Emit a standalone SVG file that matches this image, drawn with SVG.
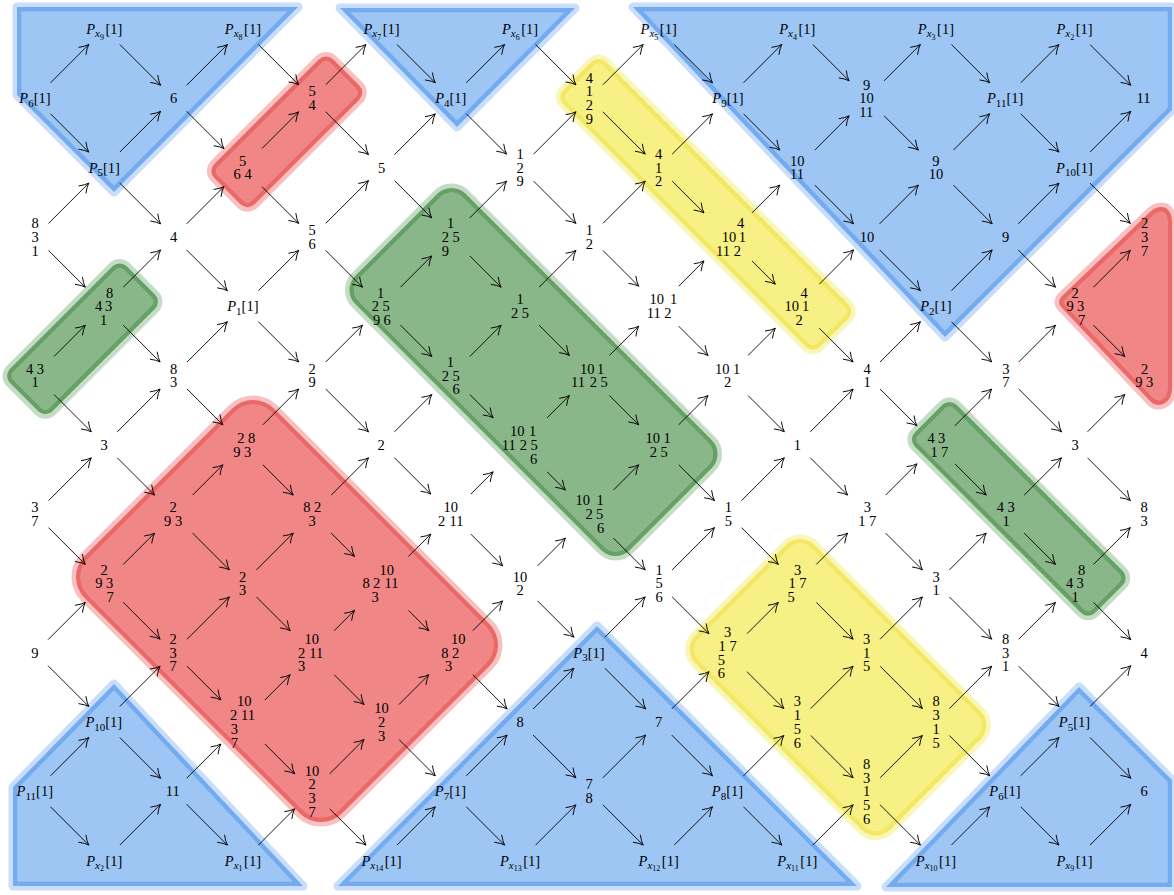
<svg xmlns="http://www.w3.org/2000/svg" width="1174" height="895" viewBox="0 0 1174 895">
<style>
text{font-family:"Liberation Serif","Times New Roman",serif;font-size:14.5px;fill:#000}
.m{text-anchor:middle}
.i{font-style:italic}
.s{font-size:11px}
.ss{font-size:8px}
.c{fill:none;stroke:#000;stroke-width:0.9;marker-end:url(#ah)}
.bf{fill:#9DC6F5;stroke:#C8DEFA;stroke-width:9;stroke-linejoin:round}
.bb{fill:none;stroke:#73AAF0;stroke-width:9;stroke-linejoin:round}
.rf{fill:#F18686;stroke:#F8C0C0;stroke-width:9;stroke-linejoin:round}
.rb{fill:none;stroke:#EA6868;stroke-width:9;stroke-linejoin:round}
.gf{fill:#89B789;stroke:#C3DCC3;stroke-width:9}
.gb{fill:none;stroke:#67A067;stroke-width:9}
.yf{fill:#F7F085;stroke:#FAF6B9;stroke-width:9}
.yb{fill:none;stroke:#F2E864;stroke-width:9}
</style>
<defs>
<marker id="ah" markerUnits="userSpaceOnUse" markerWidth="14" markerHeight="14" viewBox="-11 -7 14 14" refX="0" refY="0" orient="auto" overflow="visible"><path d="M-9,-5 Q-4,-1.2 0,0 Q-4,1.2 -9,5" fill="none" stroke="#000" stroke-width="0.9" stroke-linecap="round"/></marker>
<path id="B1" d="M17,7 L298,7 L114,192 L17,95 Z"/>
<path id="B2" d="M340,8 L575,8 L457,127 Z"/>
<path id="B3" d="M633,7 L1172,7 L1172,110 L945,337 Z"/>
<path id="B4" d="M114,684 L13,787 L13,886 L303,886 Z"/>
<path id="B5" d="M338,886 L597,626 L857,886 Z"/>
<path id="B6" d="M886,887 L1079,687 L1172,780 L1172,887 Z"/>
<rect id="R1" x="-84" y="-28.5" width="168" height="57" rx="10" transform="translate(286.8 131.8) rotate(-45)"/>
<rect id="R2" x="-134" y="-182" width="268" height="364" rx="30" transform="translate(287 611) rotate(-45)"/>
<path id="R3" d="M1062,296 L1150,212 Q1158,205 1166,208 Q1172,212 1172,222 L1172,388 Q1172,400 1163,404 Q1155,407 1149,400 L1062,308 Q1056,302 1062,296 Z"/>
<rect id="G1" x="-82.5" y="-30" width="165" height="60" rx="10" transform="translate(82.5 338.8) rotate(-45)"/>
<rect id="G2" x="-78" y="-194" width="156" height="388" rx="20" transform="translate(533.5 372) rotate(-45)"/>
<rect id="G3" x="-29.5" y="-127.5" width="59" height="255" rx="10" transform="translate(1018.8 508.8) rotate(-45)"/>
<rect id="Y1" x="-30" y="-181.5" width="60" height="363" rx="10" transform="translate(705.8 204.3) rotate(-45)"/>
<rect id="Y2" x="-84" y="-137.5" width="168" height="275" rx="20" transform="translate(838 687.3) rotate(-45)"/>
<clipPath id="cB1"><use href="#B1"/></clipPath>
<clipPath id="cB2"><use href="#B2"/></clipPath>
<clipPath id="cB3"><use href="#B3"/></clipPath>
<clipPath id="cB4"><use href="#B4"/></clipPath>
<clipPath id="cB5"><use href="#B5"/></clipPath>
<clipPath id="cB6"><use href="#B6"/></clipPath>
<clipPath id="cR1"><use href="#R1"/></clipPath>
<clipPath id="cR2"><use href="#R2"/></clipPath>
<clipPath id="cR3"><use href="#R3"/></clipPath>
<clipPath id="cG1"><use href="#G1"/></clipPath>
<clipPath id="cG2"><use href="#G2"/></clipPath>
<clipPath id="cG3"><use href="#G3"/></clipPath>
<clipPath id="cY1"><use href="#Y1"/></clipPath>
<clipPath id="cY2"><use href="#Y2"/></clipPath>
</defs>
<rect width="1174" height="895" fill="#fff"/>
<g id="regions">
<g id="blue1"><use href="#B1" class="bf"/><use href="#B1" class="bb" clip-path="url(#cB1)"/></g>
<g id="blue2"><use href="#B2" class="bf"/><use href="#B2" class="bb" clip-path="url(#cB2)"/></g>
<g id="blue3"><use href="#B3" class="bf"/><use href="#B3" class="bb" clip-path="url(#cB3)"/></g>
<g id="blue4"><use href="#B4" class="bf"/><use href="#B4" class="bb" clip-path="url(#cB4)"/></g>
<g id="blue5"><use href="#B5" class="bf"/><use href="#B5" class="bb" clip-path="url(#cB5)"/></g>
<g id="blue6"><use href="#B6" class="bf"/><use href="#B6" class="bb" clip-path="url(#cB6)"/></g>
<g id="red1"><use href="#R1" class="rf"/><use href="#R1" class="rb" clip-path="url(#cR1)"/></g>
<g id="red2"><use href="#R2" class="rf"/><use href="#R2" class="rb" clip-path="url(#cR2)"/></g>
<g id="red3"><use href="#R3" class="rf"/><use href="#R3" class="rb" clip-path="url(#cR3)"/></g>
<g id="green1"><use href="#G1" class="gf"/><use href="#G1" class="gb" clip-path="url(#cG1)"/></g>
<g id="green2"><use href="#G2" class="gf"/><use href="#G2" class="gb" clip-path="url(#cG2)"/></g>
<g id="green3"><use href="#G3" class="gf"/><use href="#G3" class="gb" clip-path="url(#cG3)"/></g>
<g id="yellow1"><use href="#Y1" class="yf"/><use href="#Y1" class="yb" clip-path="url(#cY1)"/></g>
<g id="yellow2"><use href="#Y2" class="yf"/><use href="#Y2" class="yb" clip-path="url(#cY2)"/></g>
</g>
<g id="connectors">
<path class="c" d="M119.8,44.5l40.8,40.8"/><path class="c" d="M258.4,44.5l40.3,40.3"/><path class="c" d="M397,44.5l38.3,38.3"/><path class="c" d="M535.6,44.5l40.3,40.3"/><path class="c" d="M674.2,44.5l38.3,38.3"/><path class="c" d="M812.8,44.5l36.3,36.3"/><path class="c" d="M951.4,44.5l38.3,38.3"/><path class="c" d="M1090,44.5l40.8,40.8"/>
<path class="c" d="M50.5,82.8l38.3,-38.3"/><path class="c" d="M50.5,113.8l38.3,38.3"/>
<path class="c" d="M186.6,85.3l40.8,-40.8"/><path class="c" d="M186.6,111.3l37.3,37.3"/>
<path class="c" d="M325.7,84.8l40.3,-40.3"/><path class="c" d="M325.7,111.8l42.8,42.8"/>
<path class="c" d="M466.3,82.8l38.3,-38.3"/><path class="c" d="M466.3,113.8l40.3,40.3"/>
<path class="c" d="M602.9,84.8l40.3,-40.3"/><path class="c" d="M602.9,111.8l42.3,42.3"/>
<path class="c" d="M743.5,82.8l38.3,-38.3"/><path class="c" d="M743.5,113.8l36.3,36.3"/>
<path class="c" d="M884.1,80.8l36.3,-36.3"/><path class="c" d="M884.1,115.8l34.3,34.3"/>
<path class="c" d="M1020.7,82.8l38.3,-38.3"/><path class="c" d="M1020.7,113.8l38.3,38.3"/>
<path class="c" d="M119.8,152.1l40.8,-40.8"/><path class="c" d="M119.8,183.1l40.8,40.8"/>
<path class="c" d="M261.9,148.6l36.8,-36.8"/><path class="c" d="M261.9,186.6l36.8,36.8"/>
<path class="c" d="M394.5,154.6l40.8,-40.8"/><path class="c" d="M394.5,180.6l37.3,37.3"/>
<path class="c" d="M533.6,154.1l42.3,-42.3"/><path class="c" d="M533.6,181.1l42.3,42.3"/>
<path class="c" d="M672.2,154.1l40.3,-40.3"/><path class="c" d="M672.2,181.1l31.8,31.8"/>
<path class="c" d="M814.8,150.1l34.3,-34.3"/><path class="c" d="M814.8,185.1l38.8,38.8"/>
<path class="c" d="M953.4,150.1l36.3,-36.3"/><path class="c" d="M953.4,185.1l38.8,38.8"/>
<path class="c" d="M1090,152.1l40.8,-40.8"/><path class="c" d="M1090,183.1l40.3,40.3"/>
<path class="c" d="M48.5,223.4l40.3,-40.3"/><path class="c" d="M48.5,250.4l36.8,36.8"/>
<path class="c" d="M186.6,223.9l37.3,-37.3"/><path class="c" d="M186.6,249.9l40.8,40.8"/>
<path class="c" d="M325.7,223.4l42.8,-42.8"/><path class="c" d="M325.7,250.4l36.8,36.8"/>
<path class="c" d="M469.8,217.9l36.8,-36.8"/><path class="c" d="M469.8,255.9l31.3,31.3"/>
<path class="c" d="M602.9,223.4l42.3,-42.3"/><path class="c" d="M602.9,250.4l35.8,35.8"/>
<path class="c" d="M752,212.9l27.8,-27.8"/><path class="c" d="M752,260.9l23.3,23.3"/>
<path class="c" d="M879.6,223.9l38.8,-38.8"/><path class="c" d="M879.6,249.9l40.8,40.8"/>
<path class="c" d="M1018.2,223.9l40.8,-40.8"/><path class="c" d="M1018.2,249.9l37.3,37.3"/>
<path class="c" d="M123.3,287.2l37.3,-37.3"/><path class="c" d="M123.3,325.2l36.8,36.8"/>
<path class="c" d="M258.4,290.7l40.3,-40.3"/><path class="c" d="M258.4,321.7l40.3,40.3"/>
<path class="c" d="M400.5,287.2l31.3,-31.3"/><path class="c" d="M400.5,325.2l31.3,31.3"/>
<path class="c" d="M539.1,287.2l36.8,-36.8"/><path class="c" d="M539.1,325.2l30.3,30.3"/>
<path class="c" d="M678.7,286.2l25.3,-25.3"/><path class="c" d="M678.7,326.2l29.3,29.3"/>
<path class="c" d="M819.3,284.2l34.3,-34.3"/><path class="c" d="M819.3,328.2l33.8,33.8"/>
<path class="c" d="M951.4,290.7l40.8,-40.8"/><path class="c" d="M951.4,321.7l40.3,40.3"/>
<path class="c" d="M1093.5,287.2l36.8,-36.8"/><path class="c" d="M1093.5,325.2l31.3,31.3"/>
<path class="c" d="M54,356.5l31.3,-31.3"/><path class="c" d="M54,394.5l37.3,37.3"/>
<path class="c" d="M187.1,362l40.3,-40.3"/><path class="c" d="M187.1,389l35.8,35.8"/>
<path class="c" d="M325.7,362l36.8,-36.8"/><path class="c" d="M325.7,389l42.8,42.8"/>
<path class="c" d="M469.8,356.5l31.3,-31.3"/><path class="c" d="M469.8,394.5l23.3,23.3"/>
<path class="c" d="M609.4,355.5l29.3,-29.3"/><path class="c" d="M609.4,395.5l29.3,29.3"/>
<path class="c" d="M748,355.5l27.3,-27.3"/><path class="c" d="M748,395.5l36.3,36.3"/>
<path class="c" d="M880.1,362l40.3,-40.3"/><path class="c" d="M880.1,389l36.8,36.8"/>
<path class="c" d="M1018.7,362l36.8,-36.8"/><path class="c" d="M1018.7,389l42.8,42.8"/>
<path class="c" d="M117.3,431.8l42.8,-42.8"/><path class="c" d="M117.3,457.8l37.3,37.3"/>
<path class="c" d="M262.9,424.8l35.8,-35.8"/><path class="c" d="M262.9,464.8l30.3,30.3"/>
<path class="c" d="M394.5,431.8l37.3,-37.3"/><path class="c" d="M394.5,457.8l36.3,36.3"/>
<path class="c" d="M547.1,417.8l22.3,-22.3"/><path class="c" d="M547.1,471.8l18.3,18.3"/>
<path class="c" d="M678.7,424.8l29.3,-29.3"/><path class="c" d="M678.7,464.8l35.8,35.8"/>
<path class="c" d="M810.3,431.8l42.8,-42.8"/><path class="c" d="M810.3,457.8l37.3,37.3"/>
<path class="c" d="M954.9,425.8l36.8,-36.8"/><path class="c" d="M954.9,463.8l31.3,31.3"/>
<path class="c" d="M1087.5,431.8l37.3,-37.3"/><path class="c" d="M1087.5,457.8l42.8,42.8"/>
<path class="c" d="M48.5,500.6l42.8,-42.8"/><path class="c" d="M48.5,527.6l36.8,36.8"/>
<path class="c" d="M192.6,495.1l30.3,-30.3"/><path class="c" d="M192.6,533.1l36.8,36.8"/>
<path class="c" d="M331.2,495.1l37.3,-37.3"/><path class="c" d="M331.2,533.1l23.3,23.3"/>
<path class="c" d="M470.8,494.1l22.3,-22.3"/><path class="c" d="M470.8,534.1l31.8,31.8"/>
<path class="c" d="M613.4,490.1l25.3,-25.3"/><path class="c" d="M613.4,538.1l31.8,31.8"/>
<path class="c" d="M741.5,500.6l42.8,-42.8"/><path class="c" d="M741.5,527.6l36.8,36.8"/>
<path class="c" d="M885.6,495.1l31.3,-31.3"/><path class="c" d="M885.6,533.1l36.8,36.8"/>
<path class="c" d="M1024.2,495.1l37.3,-37.3"/><path class="c" d="M1024.2,533.1l31.3,31.3"/>
<path class="c" d="M123.3,564.4l31.3,-31.3"/><path class="c" d="M123.3,602.4l36.8,36.8"/>
<path class="c" d="M256.4,569.9l36.8,-36.8"/><path class="c" d="M256.4,596.9l33.8,33.8"/>
<path class="c" d="M408.5,556.4l22.3,-22.3"/><path class="c" d="M408.5,610.4l20.3,20.3"/>
<path class="c" d="M537.6,565.9l27.8,-27.8"/><path class="c" d="M537.6,600.9l36.3,36.3"/>
<path class="c" d="M672.2,569.9l42.3,-42.3"/><path class="c" d="M672.2,596.9l36.8,36.8"/>
<path class="c" d="M816.3,564.4l31.3,-31.3"/><path class="c" d="M816.3,602.4l36.8,36.8"/>
<path class="c" d="M949.4,569.9l36.8,-36.8"/><path class="c" d="M949.4,596.9l42.3,42.3"/>
<path class="c" d="M1093.5,564.4l36.8,-36.8"/><path class="c" d="M1093.5,602.4l37.3,37.3"/>
<path class="c" d="M48,639.7l37.3,-37.3"/><path class="c" d="M48,665.7l40.8,40.8"/>
<path class="c" d="M187.1,639.2l42.3,-42.3"/><path class="c" d="M187.1,666.2l33.8,33.8"/>
<path class="c" d="M334.2,630.7l20.3,-20.3"/><path class="c" d="M334.2,674.7l29.8,29.8"/>
<path class="c" d="M472.8,630.7l29.8,-29.8"/><path class="c" d="M472.8,674.7l34.3,34.3"/>
<path class="c" d="M604.9,637.2l40.3,-40.3"/><path class="c" d="M604.9,668.2l40.8,40.8"/>
<path class="c" d="M747,633.7l31.3,-31.3"/><path class="c" d="M747,671.7l36.8,36.8"/>
<path class="c" d="M880.1,639.2l42.3,-42.3"/><path class="c" d="M880.1,666.2l42.3,42.3"/>
<path class="c" d="M1018.7,639.2l36.8,-36.8"/><path class="c" d="M1018.7,666.2l40.3,40.3"/>
<path class="c" d="M119.8,706.5l40.3,-40.3"/><path class="c" d="M119.8,737.5l40.8,40.8"/>
<path class="c" d="M264.9,700l25.3,-25.3"/><path class="c" d="M264.9,744l29.8,29.8"/>
<path class="c" d="M399,704.5l29.8,-29.8"/><path class="c" d="M399,739.5l36.3,36.3"/>
<path class="c" d="M533.1,709l40.8,-40.8"/><path class="c" d="M533.1,735l42.8,42.8"/>
<path class="c" d="M671.7,709l37.3,-37.3"/><path class="c" d="M671.7,735l40.8,40.8"/>
<path class="c" d="M810.8,708.5l42.3,-42.3"/><path class="c" d="M810.8,735.5l42.3,42.3"/>
<path class="c" d="M949.4,708.5l42.3,-42.3"/><path class="c" d="M949.4,735.5l40.3,40.3"/>
<path class="c" d="M1090,706.5l40.8,-40.8"/><path class="c" d="M1090,737.5l40.8,40.8"/>
<path class="c" d="M50.5,775.8l38.3,-38.3"/><path class="c" d="M50.5,806.8l38.3,38.3"/>
<path class="c" d="M186.6,778.3l34.3,-34.3"/><path class="c" d="M186.6,804.3l40.8,40.8"/>
<path class="c" d="M329.7,773.8l34.3,-34.3"/><path class="c" d="M329.7,808.8l36.3,36.3"/>
<path class="c" d="M466.3,775.8l40.8,-40.8"/><path class="c" d="M466.3,806.8l38.3,38.3"/>
<path class="c" d="M602.9,777.8l42.8,-42.8"/><path class="c" d="M602.9,804.8l40.3,40.3"/>
<path class="c" d="M743.5,775.8l40.3,-40.3"/><path class="c" d="M743.5,806.8l38.3,38.3"/>
<path class="c" d="M880.1,777.8l42.3,-42.3"/><path class="c" d="M880.1,804.8l40.3,40.3"/>
<path class="c" d="M1020.7,775.8l38.3,-38.3"/><path class="c" d="M1020.7,806.8l38.3,38.3"/>
<path class="c" d="M119.8,845.1l40.8,-40.8"/><path class="c" d="M258.4,845.1l36.3,-36.3"/><path class="c" d="M397,845.1l38.3,-38.3"/><path class="c" d="M535.6,845.1l40.3,-40.3"/><path class="c" d="M674.2,845.1l38.3,-38.3"/><path class="c" d="M812.8,845.1l40.3,-40.3"/><path class="c" d="M951.4,845.1l38.3,-38.3"/><path class="c" d="M1090,845.1l40.8,-40.8"/>
</g>
<g id="nodes">
<g id="n1_0"><text class="m" x="104.3" y="34"><tspan class="i">P</tspan><tspan class="i s" dy="3">x</tspan><tspan class="ss" dy="2.5">9</tspan><tspan dx="1.5" dy="-5.5">[1]</tspan></text></g>
<g id="n3_0"><text class="m" x="242.9" y="34"><tspan class="i">P</tspan><tspan class="i s" dy="3">x</tspan><tspan class="ss" dy="2.5">8</tspan><tspan dx="1.5" dy="-5.5">[1]</tspan></text></g>
<g id="n5_0"><text class="m" x="381.5" y="34"><tspan class="i">P</tspan><tspan class="i s" dy="3">x</tspan><tspan class="ss" dy="2.5">7</tspan><tspan dx="1.5" dy="-5.5">[1]</tspan></text></g>
<g id="n7_0"><text class="m" x="520.1" y="34"><tspan class="i">P</tspan><tspan class="i s" dy="3">x</tspan><tspan class="ss" dy="2.5">6</tspan><tspan dx="1.5" dy="-5.5">[1]</tspan></text></g>
<g id="n9_0"><text class="m" x="658.7" y="34"><tspan class="i">P</tspan><tspan class="i s" dy="3">x</tspan><tspan class="ss" dy="2.5">5</tspan><tspan dx="1.5" dy="-5.5">[1]</tspan></text></g>
<g id="n11_0"><text class="m" x="797.3" y="34"><tspan class="i">P</tspan><tspan class="i s" dy="3">x</tspan><tspan class="ss" dy="2.5">4</tspan><tspan dx="1.5" dy="-5.5">[1]</tspan></text></g>
<g id="n13_0"><text class="m" x="935.9" y="34"><tspan class="i">P</tspan><tspan class="i s" dy="3">x</tspan><tspan class="ss" dy="2.5">3</tspan><tspan dx="1.5" dy="-5.5">[1]</tspan></text></g>
<g id="n15_0"><text class="m" x="1074.5" y="34"><tspan class="i">P</tspan><tspan class="i s" dy="3">x</tspan><tspan class="ss" dy="2.5">2</tspan><tspan dx="1.5" dy="-5.5">[1]</tspan></text></g>

<g id="n0_1"><text class="m" x="35" y="103.3"><tspan class="i">P</tspan><tspan class="s" dy="3.5">6</tspan><tspan dy="-3.5">[1]</tspan></text></g>
<g id="n2_1"><text x="170" y="103.3">6</text></g>
<g id="n4_1"><text><tspan x="308.4" y="96.45">5</tspan> <tspan x="308.4" y="110.15">4</tspan></text></g>
<g id="n6_1"><text class="m" x="450.8" y="103.3"><tspan class="i">P</tspan><tspan class="s" dy="3.5">4</tspan><tspan dy="-3.5">[1]</tspan></text></g>
<g id="n8_1"><text><tspan x="585.8" y="82.75">4</tspan> <tspan x="585.8" y="96.45">1</tspan> <tspan x="585.8" y="110.15">2</tspan> <tspan x="585.8" y="123.85">9</tspan></text></g>
<g id="n10_1"><text class="m" x="728" y="103.3"><tspan class="i">P</tspan><tspan class="s" dy="3.5">9</tspan><tspan dy="-3.5">[1]</tspan></text></g>
<g id="n12_1"><text><tspan x="863" y="89.6">9</tspan> <tspan x="859.35" y="103.3">10</tspan> <tspan x="859.35" y="117">11</tspan></text></g>
<g id="n14_1"><text class="m" x="1005.2" y="103.3"><tspan class="i">P</tspan><tspan class="s" dy="3.5">11</tspan><tspan dy="-3.5">[1]</tspan></text></g>
<g id="n16_1"><text x="1136.55" y="103.3">11</text></g>

<g id="n1_2"><text class="m" x="104.3" y="172.6"><tspan class="i">P</tspan><tspan class="s" dy="3.5">5</tspan><tspan dy="-3.5">[1]</tspan></text></g>
<g id="n3_2"><text><tspan x="239.1" y="165.75">5</tspan> <tspan x="233.6" y="179.45">6</tspan> <tspan x="244.6" y="179.45">4</tspan></text></g>
<g id="n5_2"><text x="377.9" y="172.6">5</text></g>
<g id="n7_2"><text><tspan x="516.5" y="158.9">1</tspan> <tspan x="516.5" y="172.6">2</tspan> <tspan x="516.5" y="186.3">9</tspan></text></g>
<g id="n9_2"><text><tspan x="655.1" y="158.9">4</tspan> <tspan x="655.1" y="172.6">1</tspan> <tspan x="655.1" y="186.3">2</tspan></text></g>
<g id="n11_2"><text><tspan x="790.05" y="165.75">10</tspan> <tspan x="790.05" y="179.45">11</tspan></text></g>
<g id="n13_2"><text><tspan x="932.3" y="165.75">9</tspan> <tspan x="928.65" y="179.45">10</tspan></text></g>
<g id="n15_2"><text class="m" x="1074.5" y="172.6"><tspan class="i">P</tspan><tspan class="s" dy="3.5">10</tspan><tspan dy="-3.5">[1]</tspan></text></g>

<g id="n0_3"><text><tspan x="31.4" y="228.2">8</tspan> <tspan x="31.4" y="241.9">3</tspan> <tspan x="31.4" y="255.6">1</tspan></text></g>
<g id="n2_3"><text x="170" y="241.9">4</text></g>
<g id="n4_3"><text><tspan x="308.4" y="235.05">5</tspan> <tspan x="308.4" y="248.75">6</tspan></text></g>
<g id="n6_3"><text><tspan x="446.9" y="228.2">1</tspan> <tspan x="441.7" y="241.9">2</tspan> <tspan x="452.6" y="241.9">5</tspan> <tspan x="441.7" y="255.6">9</tspan></text></g>
<g id="n8_3"><text><tspan x="585.8" y="235.05">1</tspan> <tspan x="585.8" y="248.75">2</tspan></text></g>
<g id="n10_3"><text><tspan x="736.9" y="228.2">4</tspan> <tspan x="721.75" y="241.9">10</tspan> <tspan x="738.7" y="241.9">1</tspan> <tspan x="716.05" y="255.6">11</tspan> <tspan x="733.7" y="255.6">2</tspan></text></g>
<g id="n12_3"><text x="859.65" y="241.9">10</text></g>
<g id="n14_3"><text x="1001.9" y="241.9">9</text></g>
<g id="n16_3"><text><tspan x="1140.9" y="228.2">2</tspan> <tspan x="1140.9" y="241.9">3</tspan> <tspan x="1140.9" y="255.6">7</tspan></text></g>

<g id="n1_4"><text><tspan x="105.9" y="297.5">8</tspan> <tspan x="94.9" y="311.2">4</tspan> <tspan x="104.9" y="311.2">3</tspan> <tspan x="99.9" y="324.9">1</tspan></text></g>
<g id="n3_4"><text class="m" x="242.9" y="311.2"><tspan class="i">P</tspan><tspan class="s" dy="3.5">1</tspan><tspan dy="-3.5">[1]</tspan></text></g>
<g id="n5_4"><text><tspan x="376.9" y="297.5">1</tspan> <tspan x="371.7" y="311.2">2</tspan> <tspan x="382.4" y="311.2">5</tspan> <tspan x="372.9" y="324.9">9</tspan> <tspan x="383.4" y="324.9">6</tspan></text></g>
<g id="n7_4"><text><tspan x="516.4" y="304.35">1</tspan> <tspan x="511" y="318.05">2</tspan> <tspan x="521.8" y="318.05">5</tspan></text></g>
<g id="n9_4"><text><tspan x="649.45" y="304.35">10</tspan> <tspan x="669.9" y="304.35">1</tspan> <tspan x="646.75" y="318.05">11</tspan> <tspan x="664.2" y="318.05">2</tspan></text></g>
<g id="n11_4"><text><tspan x="800.4" y="297.5">4</tspan> <tspan x="784.45" y="311.2">10</tspan> <tspan x="802.1" y="311.2">1</tspan> <tspan x="795.4" y="324.9">2</tspan></text></g>
<g id="n13_4"><text class="m" x="935.9" y="311.2"><tspan class="i">P</tspan><tspan class="s" dy="3.5">2</tspan><tspan dy="-3.5">[1]</tspan></text></g>
<g id="n15_4"><text><tspan x="1071.4" y="297.5">2</tspan> <tspan x="1066.4" y="311.2">9</tspan> <tspan x="1076.9" y="311.2">3</tspan> <tspan x="1077.9" y="324.9">7</tspan></text></g>

<g id="n0_5"><text><tspan x="25.9" y="373.65">4</tspan> <tspan x="36.8" y="373.65">3</tspan> <tspan x="31.4" y="387.35">1</tspan></text></g>
<g id="n2_5"><text><tspan x="169.9" y="373.65">8</tspan> <tspan x="169.9" y="387.35">3</tspan></text></g>
<g id="n4_5"><text><tspan x="308.4" y="373.65">2</tspan> <tspan x="308.4" y="387.35">9</tspan></text></g>
<g id="n6_5"><text><tspan x="446.7" y="366.8">1</tspan> <tspan x="441.7" y="380.5">2</tspan> <tspan x="452.6" y="380.5">5</tspan> <tspan x="452.6" y="394.2">6</tspan></text></g>
<g id="n8_5"><text><tspan x="580.05" y="373.65">10</tspan> <tspan x="597.1" y="373.65">1</tspan> <tspan x="571.05" y="387.35">11</tspan> <tspan x="589.7" y="387.35">2</tspan> <tspan x="600.4" y="387.35">5</tspan></text></g>
<g id="n10_5"><text><tspan x="715.05" y="373.65">10</tspan> <tspan x="733.1" y="373.65">1</tspan> <tspan x="724.1" y="387.35">2</tspan></text></g>
<g id="n12_5"><text><tspan x="863.4" y="373.65">4</tspan> <tspan x="863.4" y="387.35">1</tspan></text></g>
<g id="n14_5"><text><tspan x="1002.2" y="373.65">3</tspan> <tspan x="1002.2" y="387.35">7</tspan></text></g>
<g id="n16_5"><text><tspan x="1140.9" y="373.65">2</tspan> <tspan x="1135.2" y="387.35">9</tspan> <tspan x="1145.9" y="387.35">3</tspan></text></g>

<g id="n1_6"><text x="100.4" y="449.8">3</text></g>
<g id="n3_6"><text><tspan x="237.2" y="442.95">2</tspan> <tspan x="247.9" y="442.95">8</tspan> <tspan x="233.2" y="456.65">9</tspan> <tspan x="243.9" y="456.65">3</tspan></text></g>
<g id="n5_6"><text x="377.4" y="449.8">2</text></g>
<g id="n7_6"><text><tspan x="510.05" y="436.1">10</tspan> <tspan x="529.1" y="436.1">1</tspan> <tspan x="501.75" y="449.8">11</tspan> <tspan x="519.7" y="449.8">2</tspan> <tspan x="530.4" y="449.8">5</tspan> <tspan x="529.9" y="463.5">6</tspan></text></g>
<g id="n9_6"><text><tspan x="645.45" y="442.95">10</tspan> <tspan x="663.4" y="442.95">1</tspan> <tspan x="649.7" y="456.65">2</tspan> <tspan x="660.4" y="456.65">5</tspan></text></g>
<g id="n11_6"><text x="793.7" y="449.8">1</text></g>
<g id="n13_6"><text><tspan x="927.4" y="442.95">4</tspan> <tspan x="938.1" y="442.95">3</tspan> <tspan x="930.4" y="456.65">1</tspan> <tspan x="940.9" y="456.65">7</tspan></text></g>
<g id="n15_6"><text x="1071.4" y="449.8">3</text></g>

<g id="n0_7"><text><tspan x="31.2" y="512.25">3</tspan> <tspan x="31.2" y="525.95">7</tspan></text></g>
<g id="n2_7"><text><tspan x="169.4" y="512.25">2</tspan> <tspan x="164.1" y="525.95">9</tspan> <tspan x="174.9" y="525.95">3</tspan></text></g>
<g id="n4_7"><text><tspan x="303.2" y="512.25">8</tspan> <tspan x="313.9" y="512.25">2</tspan> <tspan x="308.4" y="525.95">3</tspan></text></g>
<g id="n6_7"><text><tspan x="443.45" y="512.25">10</tspan> <tspan x="438.1" y="525.95">2</tspan> <tspan x="449.45" y="525.95">11</tspan></text></g>
<g id="n8_7"><text><tspan x="575.45" y="505.4">10</tspan> <tspan x="596.4" y="505.4">1</tspan> <tspan x="585.4" y="519.1">2</tspan> <tspan x="595.9" y="519.1">5</tspan> <tspan x="596.9" y="532.8">6</tspan></text></g>
<g id="n10_7"><text><tspan x="724.7" y="512.25">1</tspan> <tspan x="724.7" y="525.95">5</tspan></text></g>
<g id="n12_7"><text><tspan x="863.7" y="512.25">3</tspan> <tspan x="858.2" y="525.95">1</tspan> <tspan x="868.9" y="525.95">7</tspan></text></g>
<g id="n14_7"><text><tspan x="996.7" y="512.25">4</tspan> <tspan x="1007.4" y="512.25">3</tspan> <tspan x="1002.4" y="525.95">1</tspan></text></g>
<g id="n16_7"><text><tspan x="1140.4" y="512.25">8</tspan> <tspan x="1140.4" y="525.95">3</tspan></text></g>

<g id="n1_8"><text><tspan x="100.4" y="574.7">2</tspan> <tspan x="95.2" y="588.4">9</tspan> <tspan x="105.9" y="588.4">3</tspan> <tspan x="106.4" y="602.1">7</tspan></text></g>
<g id="n3_8"><text><tspan x="239.1" y="581.55">2</tspan> <tspan x="239.1" y="595.25">3</tspan></text></g>
<g id="n5_8"><text><tspan x="379.45" y="574.7">10</tspan> <tspan x="362.4" y="588.4">8</tspan> <tspan x="373.1" y="588.4">2</tspan> <tspan x="384.45" y="588.4">11</tspan> <tspan x="371.4" y="602.1">3</tspan></text></g>
<g id="n7_8"><text><tspan x="512.75" y="581.55">10</tspan> <tspan x="516.4" y="595.25">2</tspan></text></g>
<g id="n9_8"><text><tspan x="655.4" y="574.7">1</tspan> <tspan x="655.4" y="588.4">5</tspan> <tspan x="655.4" y="602.1">6</tspan></text></g>
<g id="n11_8"><text><tspan x="793.9" y="574.7">3</tspan> <tspan x="788.4" y="588.4">1</tspan> <tspan x="799.2" y="588.4">7</tspan> <tspan x="787.4" y="602.1">5</tspan></text></g>
<g id="n13_8"><text><tspan x="932.4" y="581.55">3</tspan> <tspan x="932.4" y="595.25">1</tspan></text></g>
<g id="n15_8"><text><tspan x="1078.1" y="574.7">8</tspan> <tspan x="1065.9" y="588.4">4</tspan> <tspan x="1076.4" y="588.4">3</tspan> <tspan x="1071.4" y="602.1">1</tspan></text></g>

<g id="n0_9"><text x="31.2" y="657.7">9</text></g>
<g id="n2_9"><text><tspan x="169.4" y="644">2</tspan> <tspan x="169.4" y="657.7">3</tspan> <tspan x="169.4" y="671.4">7</tspan></text></g>
<g id="n4_9"><text><tspan x="304.45" y="644">10</tspan> <tspan x="298.1" y="657.7">2</tspan> <tspan x="309.25" y="657.7">11</tspan> <tspan x="298.1" y="671.4">3</tspan></text></g>
<g id="n6_9"><text><tspan x="451.05" y="644">10</tspan> <tspan x="441.2" y="657.7">8</tspan> <tspan x="452.1" y="657.7">2</tspan> <tspan x="444.9" y="671.4">3</tspan></text></g>
<g id="n8_9"><text class="m" x="589" y="657.7"><tspan class="i">P</tspan><tspan class="s" dy="3.5">3</tspan><tspan dy="-3.5">[1]</tspan></text></g>
<g id="n10_9"><text><tspan x="723.9" y="637.15">3</tspan> <tspan x="718.4" y="650.85">1</tspan> <tspan x="729.4" y="650.85">7</tspan> <tspan x="717.7" y="664.55">5</tspan> <tspan x="717.7" y="678.25">6</tspan></text></g>
<g id="n12_9"><text><tspan x="863.1" y="644">3</tspan> <tspan x="863.1" y="657.7">1</tspan> <tspan x="863.1" y="671.4">5</tspan></text></g>
<g id="n14_9"><text><tspan x="1002.1" y="644">8</tspan> <tspan x="1002.1" y="657.7">3</tspan> <tspan x="1002.1" y="671.4">1</tspan></text></g>
<g id="n16_9"><text x="1140.4" y="657.7">4</text></g>

<g id="n1_10"><text class="m" x="103.8" y="727"><tspan class="i">P</tspan><tspan class="s" dy="3.5">10</tspan><tspan dy="-3.5">[1]</tspan></text></g>
<g id="n3_10"><text><tspan x="237.05" y="706.45">10</tspan> <tspan x="229.9" y="720.15">2</tspan> <tspan x="241.05" y="720.15">11</tspan> <tspan x="230.7" y="733.85">3</tspan> <tspan x="230.7" y="747.55">7</tspan></text></g>
<g id="n5_10"><text><tspan x="374.25" y="713.3">10</tspan> <tspan x="377.9" y="727">2</tspan> <tspan x="377.9" y="740.7">3</tspan></text></g>
<g id="n7_10"><text x="516.4" y="727">8</text></g>
<g id="n9_10"><text x="655.1" y="727">7</text></g>
<g id="n11_10"><text><tspan x="793.7" y="706.45">3</tspan> <tspan x="793.7" y="720.15">1</tspan> <tspan x="793.7" y="733.85">5</tspan> <tspan x="793.7" y="747.55">6</tspan></text></g>
<g id="n13_10"><text><tspan x="932.4" y="706.45">8</tspan> <tspan x="932.4" y="720.15">3</tspan> <tspan x="932.4" y="733.85">1</tspan> <tspan x="932.4" y="747.55">5</tspan></text></g>
<g id="n15_10"><text class="m" x="1074.5" y="727"><tspan class="i">P</tspan><tspan class="s" dy="3.5">5</tspan><tspan dy="-3.5">[1]</tspan></text></g>

<g id="n0_11"><text class="m" x="34.8" y="796.3"><tspan class="i">P</tspan><tspan class="s" dy="3.5">11</tspan><tspan dy="-3.5">[1]</tspan></text></g>
<g id="n2_11"><text x="165.75" y="796.3">11</text></g>
<g id="n4_11"><text><tspan x="304.75" y="775.75">10</tspan> <tspan x="308.4" y="789.45">2</tspan> <tspan x="308.4" y="803.15">3</tspan> <tspan x="308.4" y="816.85">7</tspan></text></g>
<g id="n6_11"><text class="m" x="450.5" y="796.3"><tspan class="i">P</tspan><tspan class="s" dy="3.5">7</tspan><tspan dy="-3.5">[1]</tspan></text></g>
<g id="n8_11"><text><tspan x="585.4" y="789.45">7</tspan> <tspan x="585.4" y="803.15">8</tspan></text></g>
<g id="n10_11"><text class="m" x="727.5" y="796.3"><tspan class="i">P</tspan><tspan class="s" dy="3.5">8</tspan><tspan dy="-3.5">[1]</tspan></text></g>
<g id="n12_11"><text><tspan x="863.1" y="768.9">8</tspan> <tspan x="863.1" y="782.6">3</tspan> <tspan x="863.1" y="796.3">1</tspan> <tspan x="863.1" y="810">5</tspan> <tspan x="863.1" y="823.7">6</tspan></text></g>
<g id="n14_11"><text class="m" x="1005" y="796.3"><tspan class="i">P</tspan><tspan class="s" dy="3.5">6</tspan><tspan dy="-3.5">[1]</tspan></text></g>
<g id="n16_11"><text x="1140.4" y="796.3">6</text></g>

<g id="n1_12"><text class="m" x="104.3" y="865.6"><tspan class="i">P</tspan><tspan class="i s" dy="3">x</tspan><tspan class="ss" dy="2.5">2</tspan><tspan dx="1.5" dy="-5.5">[1]</tspan></text></g>
<g id="n3_12"><text class="m" x="242.9" y="865.6"><tspan class="i">P</tspan><tspan class="i s" dy="3">x</tspan><tspan class="ss" dy="2.5">1</tspan><tspan dx="1.5" dy="-5.5">[1]</tspan></text></g>
<g id="n5_12"><text class="m" x="381.5" y="865.6"><tspan class="i">P</tspan><tspan class="i s" dy="3">x</tspan><tspan class="ss" dy="2.5">14</tspan><tspan dx="1.5" dy="-5.5">[1]</tspan></text></g>
<g id="n7_12"><text class="m" x="520.1" y="865.6"><tspan class="i">P</tspan><tspan class="i s" dy="3">x</tspan><tspan class="ss" dy="2.5">13</tspan><tspan dx="1.5" dy="-5.5">[1]</tspan></text></g>
<g id="n9_12"><text class="m" x="658.7" y="865.6"><tspan class="i">P</tspan><tspan class="i s" dy="3">x</tspan><tspan class="ss" dy="2.5">12</tspan><tspan dx="1.5" dy="-5.5">[1]</tspan></text></g>
<g id="n11_12"><text class="m" x="797.3" y="865.6"><tspan class="i">P</tspan><tspan class="i s" dy="3">x</tspan><tspan class="ss" dy="2.5">11</tspan><tspan dx="1.5" dy="-5.5">[1]</tspan></text></g>
<g id="n13_12"><text class="m" x="935.9" y="865.6"><tspan class="i">P</tspan><tspan class="i s" dy="3">x</tspan><tspan class="ss" dy="2.5">10</tspan><tspan dx="1.5" dy="-5.5">[1]</tspan></text></g>
<g id="n15_12"><text class="m" x="1074.5" y="865.6"><tspan class="i">P</tspan><tspan class="i s" dy="3">x</tspan><tspan class="ss" dy="2.5">9</tspan><tspan dx="1.5" dy="-5.5">[1]</tspan></text></g>
</g>
</svg>
